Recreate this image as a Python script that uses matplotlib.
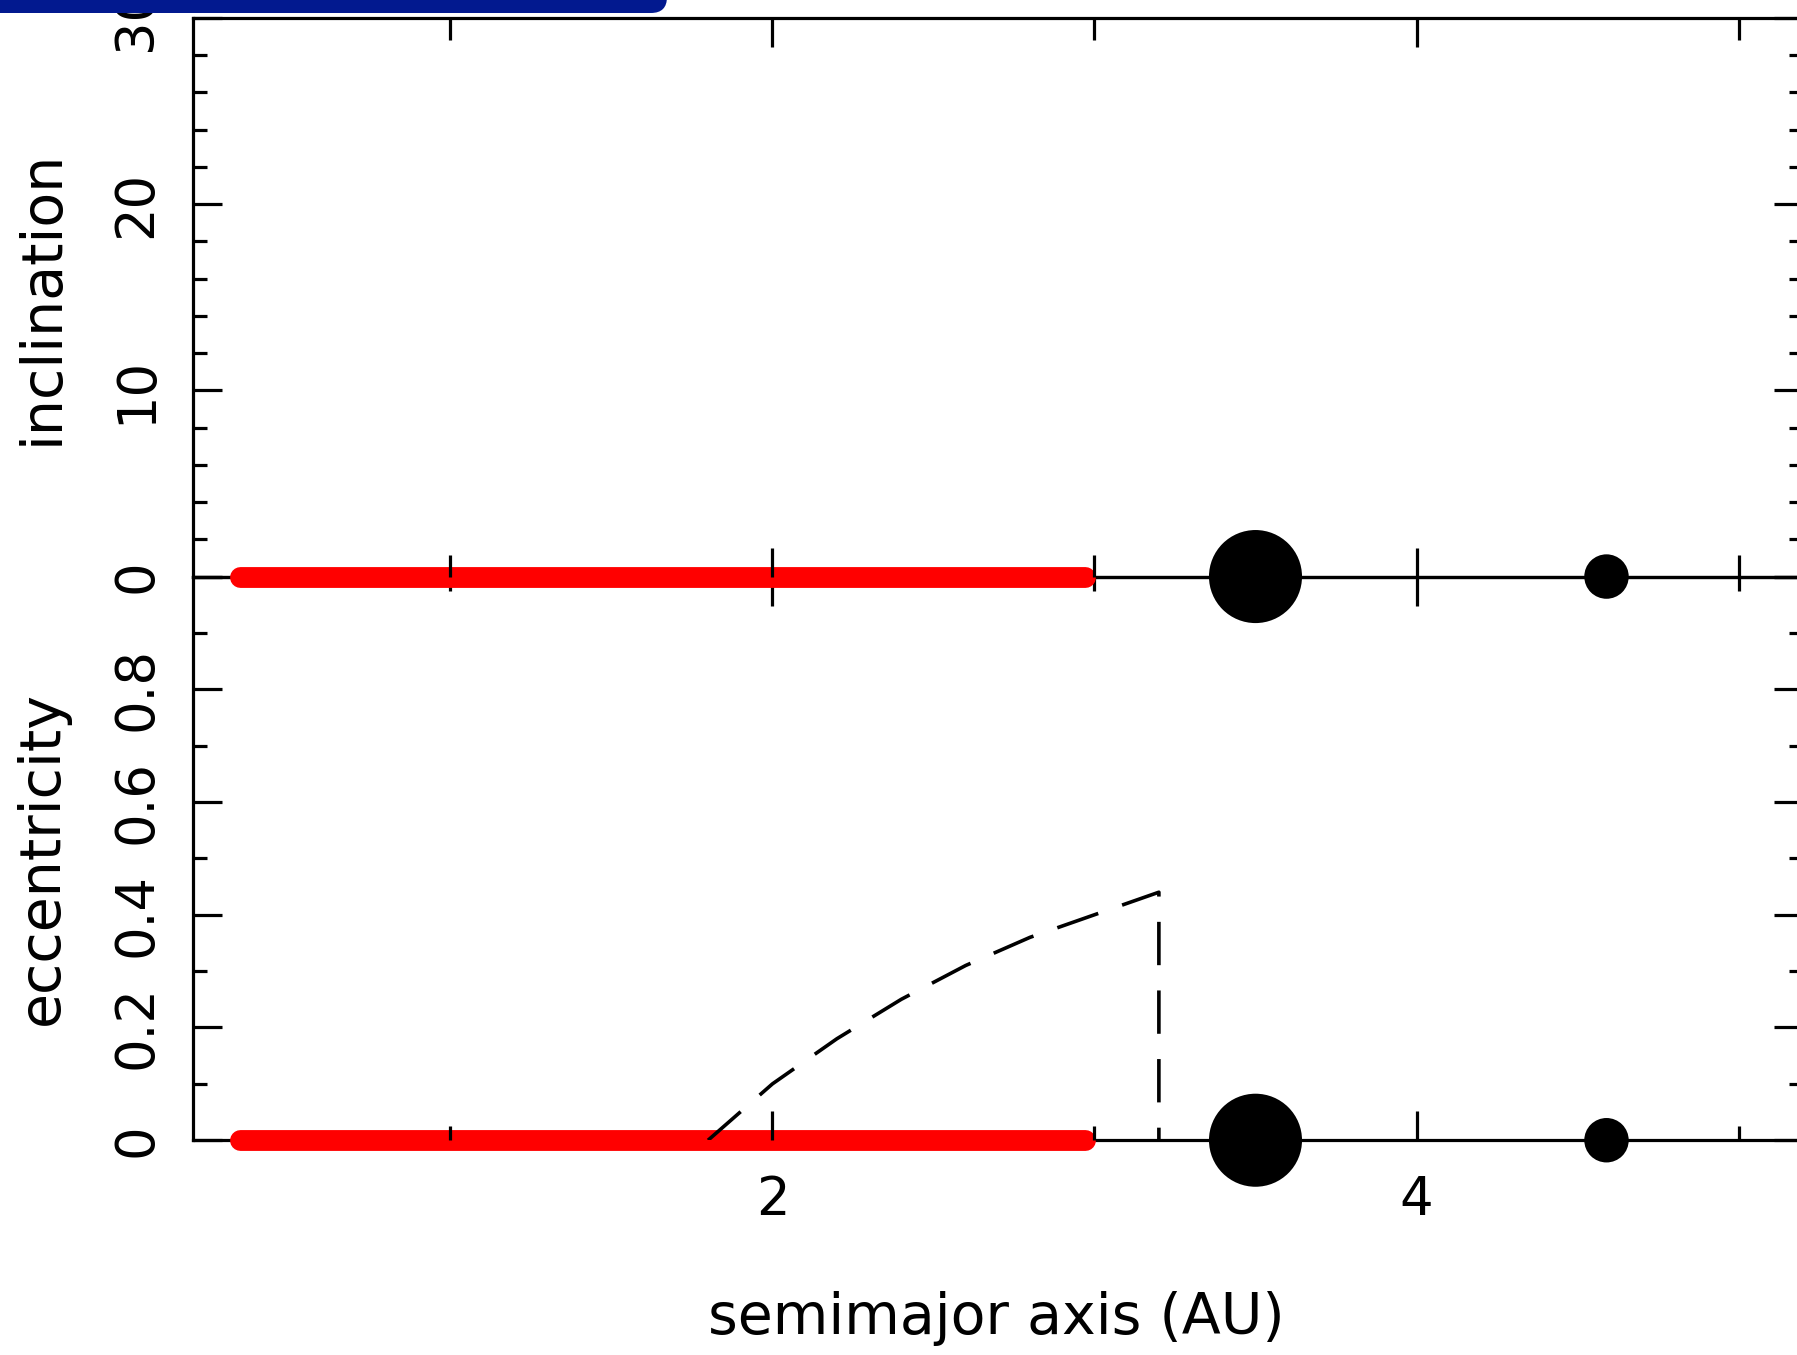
import numpy as np
import matplotlib
matplotlib.use("Agg")
import matplotlib.pyplot as plt
from matplotlib.ticker import MultipleLocator
from matplotlib.patches import FancyBboxPatch
from matplotlib.transforms import IdentityTransform

# planetesimal disk (red band), AU
disk_a = [0.345, 2.97]
disk_val = [0.0, 0.0]

# giant planets: position (AU) and marker diameter (pt)
planet_a = [3.5, 4.59]
planet_i = [0.0, 0.0]
planet_e = [0.0, 0.0]
planet_d = [67, 32]

# dashed boundary in the eccentricity panel
bound_a = [1.8, 2.0, 2.2, 2.4, 2.6, 2.8, 3.0, 3.2, 3.2]
bound_e = [0.0, 0.10, 0.18, 0.25, 0.31, 0.36, 0.40, 0.44, 0.0]

# ticks
a_ticks = [2, 4]
a_labels = ["2", "4"]
i_ticks = [0, 10, 20, 30]
i_labels = ["0", "10", "20", "30"]
e_ticks = [0, 0.2, 0.4, 0.6, 0.8, 1.0]
e_labels = ["0", "0.2", "0.4", "0.6", "0.8", ""]

plt.rcParams['font.family'] = ['DejaVu Sans']
FS = 38
LFS = 41

fig = plt.figure(figsize=(17.97, 13.55), dpi=100)
ax2 = fig.add_axes([0.1073, 0.1585, 0.896, 0.416])
ax1 = fig.add_axes([0.1073, 0.5745, 0.896, 0.4124])

for ax in (ax1, ax2):
    ax.patch.set_visible(False)
    ax.set_xlim(0.2, 5.2)
    ax.xaxis.set_major_locator(MultipleLocator(2))
    ax.xaxis.set_minor_locator(MultipleLocator(1))
    ax.tick_params(which='both', direction='in', top=True, right=True,
                   width=2.3, color='black', labelsize=FS)
    ax.tick_params(which='major', length=21)
    ax.tick_params(which='minor', length=10)
    ax.tick_params(axis='y', labelrotation=90, pad=22)
    ax.tick_params(axis='x', pad=24)
    for s in ax.spines.values():
        s.set_linewidth(2.3)
        s.set_zorder(1)

# top: inclination
ax1.set_ylim(0, 30)
ax1.set_yticks(i_ticks, i_labels)
ax1.yaxis.set_minor_locator(MultipleLocator(2))
ax1.tick_params(which='minor', axis='x', length=16)
ax1.tick_params(labelbottom=False)
ax1.plot(disk_a, disk_val, color='red', lw=15, solid_capstyle='round',
         clip_on=False, zorder=1.2)
ax1.scatter(planet_a, planet_i, s=np.square(planet_d), c='black',
            clip_on=False, zorder=5, linewidths=0)
ax1.set_ylabel('inclination', fontsize=LFS)

# bottom: eccentricity
ax2.set_ylim(0, 1)
ax2.set_yticks(e_ticks, e_labels)
ax2.yaxis.set_minor_locator(MultipleLocator(0.1))
ax2.set_xticks(a_ticks, a_labels)
ax2.plot(disk_a, disk_val, color='red', lw=15, solid_capstyle='round',
         clip_on=False, zorder=1.2)
ax2.plot(bound_a, bound_e, color='black', lw=2.6, linestyle=(0, (12, 7)),
         zorder=3)
ax2.scatter(planet_a, planet_e, s=np.square(planet_d), c='black',
            clip_on=False, zorder=5, linewidths=0)
ax2.set_ylabel('eccentricity', fontsize=LFS)
ax2.set_xlabel('semimajor axis (AU)', fontsize=LFS)

for ax in (ax1, ax2):
    for lab in ax.get_yticklabels():
        lab.set_va('center')
    ax.yaxis.set_label_coords(-0.0838, 0.5)
    ax.yaxis.label.set_va('baseline')
ax2.xaxis.set_label_coords(0.499, -0.317)
ax2.xaxis.label.set_va('center')

# blue slide bar at the top-left corner
bar = FancyBboxPatch((-40, 1355 - 13), 707, 60,
                     boxstyle='round,pad=0,rounding_size=16',
                     transform=IdentityTransform(), facecolor='#02198f',
                     edgecolor='none', zorder=10)
fig.patches.append(bar)

fig.savefig('out.png', dpi=100)
